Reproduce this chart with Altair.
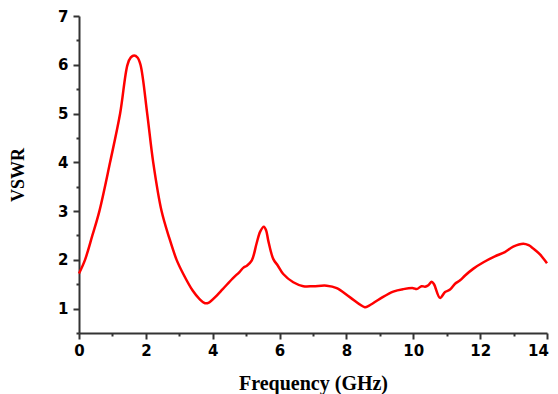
import altair as alt
import pandas as pd

freq = [0.0, 0.18, 0.4, 0.61, 0.93, 1.23, 1.45, 1.55, 1.65, 1.75, 1.84, 2.04, 2.22, 2.47,
        2.7, 2.92, 3.12, 3.4, 3.6, 3.77, 3.9, 4.05, 4.3, 4.6, 4.8, 4.92, 5.02,
        5.17, 5.31, 5.42, 5.53, 5.6, 5.66, 5.81, 5.95, 6.11, 6.41, 6.71, 7.01, 7.41, 7.71,
        8.11, 8.55, 8.65, 9.0, 9.4, 9.7, 10.0, 10.1, 10.25, 10.35, 10.45, 10.55, 10.62, 10.8,
        10.95, 11.1, 11.25, 11.4, 11.55, 11.8, 12.1, 12.44, 12.74, 12.99, 13.29, 13.45, 13.59,
        13.79, 14.0]
vswr = [1.72, 2.0, 2.5, 3.0, 4.0, 5.0, 6.0, 6.15, 6.19, 6.15, 6.0, 5.0, 4.0, 3.0,
        2.45, 2.0, 1.71, 1.37, 1.2, 1.11, 1.13, 1.22, 1.40, 1.62, 1.75, 1.84, 1.88,
        1.99, 2.33, 2.58, 2.68, 2.6, 2.40, 2.02, 1.88, 1.71, 1.54, 1.46, 1.46, 1.47, 1.42,
        1.23, 1.03, 1.05, 1.20, 1.35, 1.40, 1.42, 1.40, 1.46, 1.45, 1.48, 1.55, 1.50, 1.22,
        1.34, 1.39, 1.51, 1.58, 1.68, 1.82, 1.95, 2.07, 2.16, 2.27, 2.33, 2.30, 2.23,
        2.11, 1.93]

x_major = [0, 2, 4, 6, 8, 10, 12, 14]
x_minor = [1, 3, 5, 7, 9, 11, 13]
y_major = [1, 2, 3, 4, 5, 6, 7]
y_minor = [0.5, 1.5, 2.5, 3.5, 4.5, 5.5, 6.5]

df = pd.DataFrame({"f": freq, "v": vswr})

W, H = 468, 317
xs = alt.Scale(domain=[0, 14], nice=False, zero=False)
ys = alt.Scale(domain=[0.5, 7], nice=False, zero=False)

axis_common = dict(domainColor="#333333", domainWidth=2, tickColor="#333333", tickWidth=2,
                   grid=False, labelFont="DejaVu Sans", labelFontWeight="bold",
                   labelFontSize=15, labelColor="#000000", titleColor="#000000",
                   labelFlush=False)

line = alt.Chart(df).mark_line(color="#FF0000", strokeWidth=2.5, interpolate="catmull-rom").encode(
    x=alt.X("f:Q", scale=xs, axis=alt.Axis(
        values=x_major, tickSize=6, labelPadding=4,
        labelOffset={"condition": {"test": "datum.value == 14", "value": -9}, "value": 0},
        title="Frequency (GHz)", titleFont="Liberation Serif",
        titleFontWeight="bold", titleFontSize=20,
        titleX=W / 2, titleY=50, titleAlign="center",
        titleBaseline="middle", **axis_common)),
    y=alt.Y("v:Q", scale=ys, axis=alt.Axis(
        values=y_major, tickSize=6, labelPadding=5,
        title="VSWR", titleFont="Liberation Serif",
        titleFontWeight="bold", titleFontSize=18,
        titleX=-61, titleY=H / 2, titleAngle=270,
        titleAlign="center", titleBaseline="middle",
        **axis_common)),
)

minor = alt.Chart(df).mark_line(opacity=0).encode(
    x=alt.X("f:Q", scale=xs, axis=alt.Axis(values=x_minor, tickSize=3, labels=False, domain=False,
                                           title=None, orient="bottom", grid=False,
                                           tickColor="#333333", tickWidth=2)),
    y=alt.Y("v:Q", scale=ys, axis=alt.Axis(values=y_minor, tickSize=3, labels=False, domain=False,
                                           title=None, orient="left", grid=False,
                                           tickColor="#333333", tickWidth=2)),
)

chart = alt.layer(line, minor).resolve_axis(x="independent", y="independent").properties(
    width=W, height=H,
    autosize=alt.AutoSizeParams(type="none"),
    padding={"left": 71, "top": 8, "right": 3, "bottom": 62},
    background="#ffffff",
).configure_view(stroke=None)

chart.save("out.html", embed_options={"renderer": "svg", "actions": False})
